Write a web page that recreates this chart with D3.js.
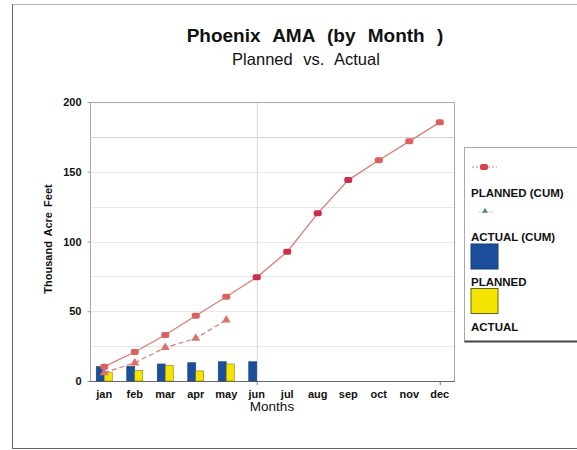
<!DOCTYPE html>
<html>
<head>
<meta charset="utf-8">
<script src="https://cdn.jsdelivr.net/npm/d3@7"></script>
<style>
	body { margin: 0; background: #fff; }
	text { font-family: 'Liberation Sans', Arial, sans-serif; fill: #111; }
</style>
</head>
<body>
<div id="chart"></div>
<script>
const months      = ['jan', 'feb', 'mar', 'apr', 'may', 'jun', 'jul', 'aug', 'sep', 'oct', 'nov', 'dec']
const plannedCum  = [10.3, 20.8, 33, 46.8, 60.4, 74.3, 92.7, 120.2, 144, 158.2, 171.8, 185.4]
const actualCum   = [6, 13, 24, 30.6, 43.7]
const planned     = [10.3, 10.5, 12.2, 13.1, 13.8, 13.8]
const actual      = [6, 7.4, 11.2, 7.2, 12.2]
const yTicks      = [0, 50, 100, 150, 200]
const gridTicks   = [25, 50, 75, 100, 125, 150, 175]
const legendItems = ['PLANNED (CUM)', 'ACTUAL (CUM)', 'PLANNED', 'ACTUAL']

const W = 577, H = 450
const pLeft = 90, pRight = 454, pTop = 102, pBottom = 381

const svg = d3.select('#chart').append('svg')
	.attr('width', W)
	.attr('height', H)

// frame
svg.append('rect')
	.attr('x', 12.5).attr('y', 4.5)
	.attr('width', 600).attr('height', 444)
	.attr('fill', 'none')
	.attr('stroke', '#b0b0b0')
svg.append('path')
	.attr('d', `M12.5,4.5V448.5H${W}`)
	.attr('fill', 'none')
	.attr('stroke', '#666')

// titles
svg.append('text')
	.attr('x', 315).attr('y', 42)
	.attr('text-anchor', 'middle')
	.style('font-size', '19px')
	.style('font-weight', 'bold')
	.style('word-spacing', '7px')
	.text('Phoenix AMA (by Month )')

svg.append('text')
	.attr('x', 306).attr('y', 65)
	.attr('text-anchor', 'middle')
	.style('font-size', '16.5px')
	.style('word-spacing', '6px')
	.text('Planned vs. Actual')

const x = d3.scaleBand()
	.domain(months)
	.range([89, 455])

const y = d3.scaleLinear()
	.domain([0, 200])
	.range([pBottom, pTop])

const cx = m => x(m) + x.bandwidth() / 2

const g = svg.append('g')

// grid
g.selectAll('line.grid')
	.data(gridTicks)
	.enter()
	.append('line')
	.attr('class', 'grid')
	.attr('x1', pLeft).attr('x2', pRight)
	.attr('y1', d => Math.round(y(d)) + 0.5)
	.attr('y2', d => Math.round(y(d)) + 0.5)
	.attr('stroke', d => d == 175 ? '#d2d2d2' : '#e8e8e8')

g.append('line')
	.attr('x1', cx('jun') + 0.5).attr('x2', cx('jun') + 0.5)
	.attr('y1', pTop).attr('y2', pBottom)
	.attr('stroke', '#d8d8d8')

// plot border
g.append('path')
	.attr('d', `M${pLeft + 0.5},${pBottom}V${pTop + 0.5}H${pRight + 0.5}V${pBottom}`)
	.attr('fill', 'none')
	.attr('stroke', '#a8a8a8')

// y axis
const yAxis = g.append('g')
	.attr('transform', `translate(${pLeft + 0.5},0)`)
	.call(d3.axisLeft(y).tickValues(yTicks).tickSize(3).tickPadding(6))
yAxis.select('.domain').remove()
yAxis.selectAll('line').attr('stroke', '#999')
yAxis.selectAll('text')
	.style('font-size', '11px')
	.style('font-weight', 'bold')
	.style('font-family', "'Liberation Sans', Arial, sans-serif")
	.attr('fill', '#111')

// x axis
const xAxis = g.append('g')
	.attr('transform', `translate(0,${pBottom + 0.5})`)
	.call(d3.axisBottom(x).tickSize(0).tickPadding(9))
xAxis.select('.domain').attr('stroke', '#666').attr('d', `M${pLeft},0H${pRight + 1}`)
xAxis.selectAll('text')
	.style('font-size', '11px')
	.style('font-weight', 'bold')
	.style('font-family', "'Liberation Sans', Arial, sans-serif")
	.attr('fill', '#1a1a1a')

g.selectAll('line.xtick')
	.data(['jun', 'dec'])
	.enter()
	.append('line')
	.attr('class', 'xtick')
	.attr('x1', d => cx(d) + 0.5).attr('x2', d => cx(d) + 0.5)
	.attr('y1', pBottom + 1).attr('y2', pBottom + 4)
	.attr('stroke', '#777')

svg.append('text')
	.attr('x', 52).attr('y', 239)
	.attr('transform', 'rotate(-90,52,239)')
	.attr('text-anchor', 'middle')
	.style('font-size', '11px')
	.style('font-weight', 'bold')
	.style('word-spacing', '2px')
	.text('Thousand  Acre Feet')

svg.append('text')
	.attr('x', 272).attr('y', 411)
	.attr('text-anchor', 'middle')
	.style('font-size', '13.5px')
	.text('Months')

// bars
const bw = 8
g.selectAll('rect.planned')
	.data(planned)
	.enter()
	.append('rect')
	.attr('class', 'planned')
	.attr('x', (d, i) => cx(months[i]) - bw)
	.attr('y', d => y(d))
	.attr('width', bw)
	.attr('height', d => y(0) - y(d))
	.attr('fill', '#1b4f9b')
	.attr('stroke', '#183f78')
	.attr('stroke-width', 0.6)

g.selectAll('rect.actual')
	.data(actual)
	.enter()
	.append('rect')
	.attr('class', 'actual')
	.attr('x', (d, i) => cx(months[i]))
	.attr('y', d => y(d))
	.attr('width', bw)
	.attr('height', d => y(0) - y(d))
	.attr('fill', '#f5e400')
	.attr('stroke', '#8a7d10')
	.attr('stroke-width', 0.6)

// cumulative lines
const line = d3.line()
	.x((d, i) => cx(months[i]))
	.y(d => y(d))

g.append('path')
	.datum(plannedCum)
	.attr('d', line)
	.attr('fill', 'none')
	.attr('stroke', '#dc7d76')
	.attr('stroke-width', 1.3)

g.append('path')
	.datum(actualCum)
	.attr('d', line)
	.attr('fill', 'none')
	.attr('stroke', '#dd7a72')
	.attr('stroke-width', 1.2)
	.attr('stroke-dasharray', '5,3')

g.selectAll('rect.pmark')
	.data(plannedCum)
	.enter()
	.append('rect')
	.attr('class', 'pmark')
	.attr('x', (d, i) => cx(months[i]) - 4)
	.attr('y', d => y(d) - 3)
	.attr('width', 8).attr('height', 6)
	.attr('rx', 2)
	.attr('fill', (d, i) => i >= 5 && i <= 8 ? '#c9304a' : '#d9625c')

const tri = d3.symbol().type(d3.symbolTriangle).size(34)
g.selectAll('path.amark')
	.data(actualCum)
	.enter()
	.append('path')
	.attr('class', 'amark')
	.attr('transform', (d, i) => `translate(${cx(months[i])},${y(d)})`)
	.attr('d', tri)
	.attr('fill', '#d9736c')

// legend
const lg = svg.append('g')
lg.append('rect')
	.attr('x', 464.5).attr('y', 147.5)
	.attr('width', 130).attr('height', 194)
	.attr('fill', '#fff')
	.attr('stroke', '#a8a8a8')
lg.append('path')
	.attr('d', 'M464.5,341.5H577')
	.attr('stroke', '#444')
	.attr('stroke-width', 2)

lg.append('line')
	.attr('x1', 472).attr('x2', 497)
	.attr('y1', 167).attr('y2', 167)
	.attr('stroke', '#e07a7a')
	.attr('stroke-dasharray', '2,2')
lg.append('rect')
	.attr('x', 480).attr('y', 164)
	.attr('width', 8).attr('height', 6)
	.attr('rx', 2)
	.attr('fill', '#d9404e')

lg.append('line')
	.attr('x1', 478).attr('x2', 493)
	.attr('y1', 212).attr('y2', 212)
	.attr('stroke', '#cfd8d4')
lg.append('path')
	.attr('transform', 'translate(485,211)')
	.attr('d', d3.symbol().type(d3.symbolTriangle).size(14))
	.attr('fill', '#3f8a70')

lg.append('rect')
	.attr('x', 471).attr('y', 244)
	.attr('width', 27).attr('height', 25)
	.attr('fill', '#1b4f9b')
	.attr('stroke', '#183f78')

lg.append('rect')
	.attr('x', 471).attr('y', 288.5)
	.attr('width', 27).attr('height', 25)
	.attr('fill', '#f5e400')
	.attr('stroke', '#6b6410')

lg.selectAll('text')
	.data(legendItems)
	.enter()
	.append('text')
	.attr('x', 471)
	.attr('y', (d, i) => [197, 241, 286, 331][i])
	.style('font-size', '11.5px')
	.style('font-weight', 'bold')
	.text(d => d)
</script>
</body>
</html>
